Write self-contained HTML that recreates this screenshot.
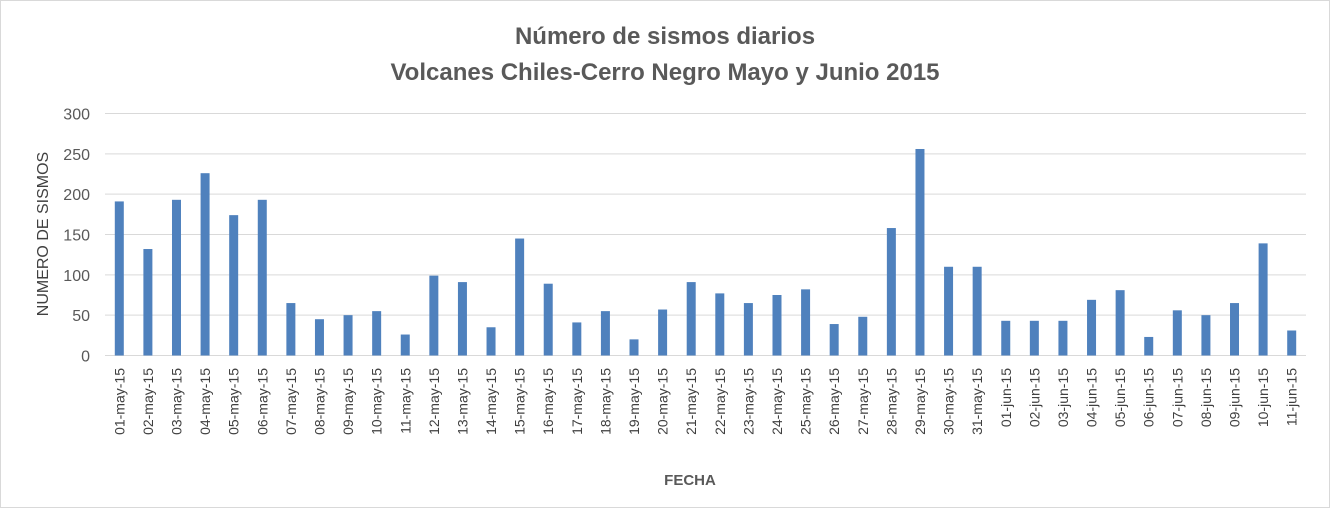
<!DOCTYPE html>
<html><head><meta charset="utf-8"><style>
body{margin:0;background:#fff;}
svg{display:block;font-family:"Liberation Sans",sans-serif;}
</style></head><body>
<svg id="chart" width="1330" height="508">
<rect x="0.5" y="0.5" width="1329" height="507" fill="#fff" stroke="#d9d9d9"/>
<text x="665" y="44" text-anchor="middle" font-size="24" font-weight="bold" fill="#595959">Número de sismos diarios</text>
<text x="665" y="80" text-anchor="middle" font-size="24" font-weight="bold" fill="#595959">Volcanes Chiles-Cerro Negro Mayo y Junio 2015</text>
<text transform="translate(48,234) rotate(-90)" text-anchor="middle" font-size="16" fill="#404040">NUMERO DE SISMOS</text>
<text x="690" y="485" text-anchor="middle" font-size="15" font-weight="bold" fill="#595959">FECHA</text>
<g id="grid"></g><g id="bars"></g><g id="xlabels"></g>
</svg>
<script>
const categories=["01-may-15","02-may-15","03-may-15","04-may-15","05-may-15","06-may-15","07-may-15","08-may-15","09-may-15","10-may-15","11-may-15","12-may-15","13-may-15","14-may-15","15-may-15","16-may-15","17-may-15","18-may-15","19-may-15","20-may-15","21-may-15","22-may-15","23-may-15","24-may-15","25-may-15","26-may-15","27-may-15","28-may-15","29-may-15","30-may-15","31-may-15","01-jun-15","02-jun-15","03-jun-15","04-jun-15","05-jun-15","06-jun-15","07-jun-15","08-jun-15","09-jun-15","10-jun-15","11-jun-15"];
const values=[191,132,193,226,174,193,65,45,50,55,26,99,91,35,145,89,41,55,20,57,91,77,65,75,82,39,48,158,256,110,110,43,43,43,69,81,23,56,50,65,139,31];
const yTicks=[0,50,100,150,200,250,300];
const NS="http://www.w3.org/2000/svg";
const L=105,R=1306,T=113.5,B=355.5,yMax=300;
const y=v=>B-(v/yMax)*(B-T);
const step=(R-L)/categories.length;
const x=i=>L+step*(i+0.5);
const grid=document.getElementById('grid'),bars=document.getElementById('bars'),xl=document.getElementById('xlabels');
yTicks.forEach(t=>{
 const ln=document.createElementNS(NS,'line');
 ln.setAttribute('x1',L);ln.setAttribute('x2',R);ln.setAttribute('y1',y(t));ln.setAttribute('y2',y(t));
 ln.setAttribute('stroke','#d9d9d9');ln.setAttribute('stroke-width','1');
 
 
 grid.appendChild(ln);
 const tx=document.createElementNS(NS,'text');
 tx.setAttribute('x',90);tx.setAttribute('y',y(t)+6);tx.setAttribute('text-anchor','end');
 tx.setAttribute('font-size','16');tx.setAttribute('fill','#595959');tx.textContent=t;
 
 
 grid.appendChild(tx);
});
values.forEach((v,i)=>{
 const r=document.createElementNS(NS,'rect');
 const w=9;
 r.setAttribute('x',x(i)-w/2);r.setAttribute('y',y(v));r.setAttribute('width',w);r.setAttribute('height',B-y(v));
 r.setAttribute('fill','#4f81bd');
 
 
 bars.appendChild(r);
 const tx=document.createElementNS(NS,'text');
 tx.setAttribute('transform','translate('+(x(i)+5)+',368) rotate(-90)');
 tx.setAttribute('text-anchor','end');tx.setAttribute('font-size','14');tx.setAttribute('fill','#404040');
 tx.textContent=categories[i];
 
 
 xl.appendChild(tx);
});
</script>
</body></html>
